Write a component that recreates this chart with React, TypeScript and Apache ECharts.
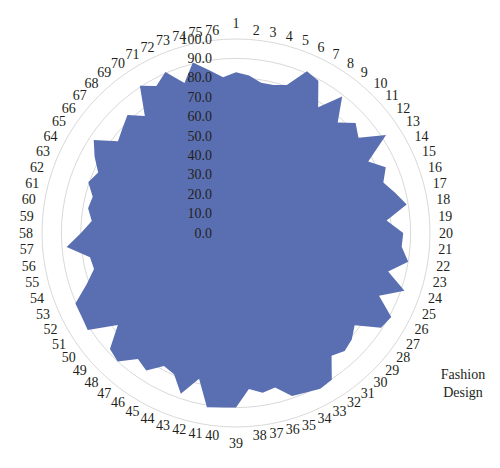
import React, { useEffect, useRef } from 'react';
import * as echarts from 'echarts';

const categories = [
  '1', '2', '3', '4', '5', '6', '7', '8', '9', '10',
  '11', '12', '13', '14', '15', '16', '17', '18', '19', '20',
  '21', '22', '23', '24', '25', '26', '27', '28', '29', '30',
  '31', '32', '33', '34', '35', '36', '37', '38', '39', '40',
  '41', '42', '43', '44', '45', '46', '47', '48', '49', '50',
  '51', '52', '53', '54', '55', '56', '57', '58', '59', '60',
  '61', '62', '63', '64', '65', '66', '67', '68', '69', '70',
  '71', '72', '73', '74', '75', '76',
];

const fashionDesign = [
  82.8, 81.4, 78.5, 78.7, 80.7, 91.0, 89.2, 77.4, 89.1, 77.4,
  83.8, 80.0, 92.4, 77.5, 84.3, 80.3, 84.6, 89.2, 77.9, 86.2,
  85.7, 90.0, 80.9, 91.8, 80.5, 91.0, 89.3, 77.5, 81.1, 82.7,
  80.2, 90.3, 91.3, 89.8, 88.9, 82.1, 83.5, 80.7, 89.9, 90.2,
  91.1, 77.5, 87.6, 79.5, 78.0, 84.6, 82.3, 90.1, 88.3, 77.2,
  91.3, 90.5, 90.4, 81.4, 75.5, 76.3, 87.6, 79.9, 74.6, 77.3,
  76.2, 80.5, 77.6, 82.9, 87.6, 77.1, 79.6, 82.6, 76.5, 90.6,
  86.2, 90.6, 81.8, 90.7, 85.2, 80.5,
];

const seriesName = 'Fashion Design';
const valueMin = 0;
const valueMax = 100;
const valueSplits = 10;

const FONT = '"Liberation Serif", "Times New Roman", serif';
const TEXT = '#231f20';

export default function App() {
  const ref = useRef<HTMLDivElement>(null);

  useEffect(() => {
    if (!ref.current) return;
    const chart = echarts.init(ref.current, undefined, { renderer: 'svg' });

    // ECharts lays radar indicators counter-clockwise; reorder so they read clockwise from the top.
    const order = [0];
    for (let i = categories.length - 1; i >= 1; i--) order.push(i);

    const indicatorMain = order.map((i) => ({ name: categories[i], min: valueMin, max: valueMax }));
    const indicatorLabels = order.map((i, k) => ({
      name: categories[i],
      min: valueMin,
      max: valueMax,
      axisLabel: { show: k === 0 },
    }));
    const ordered = order.map((i) => fashionDesign[i]);

    const common = {
      center: [236, 233],
      radius: 194,
      startAngle: 90,
      shape: 'circle',
      splitNumber: valueSplits,
    };

    const option: any = {
      animation: false,
      textStyle: { fontFamily: FONT },
      legend: {
        data: [{ name: seriesName, icon: 'none' }],
        left: 428,
        top: 360,
        itemWidth: 0,
        itemHeight: 0,
        formatter: () => '{a|Fashion}\n{a|Design}',
        textStyle: {
          fontFamily: FONT,
          fontSize: 14,
          color: TEXT,
          lineHeight: 18,
          rich: { a: { fontFamily: FONT, fontSize: 14, color: TEXT, lineHeight: 18, width: 50, align: 'center' } },
        },
      },
      radar: [
        {
          ...common,
          indicator: indicatorMain,
          axisName: { color: TEXT, fontSize: 14, fontFamily: FONT },
          nameGap: 9,
          splitLine: { lineStyle: { color: '#d9d9d9', width: 1 } },
          splitArea: { show: false },
          axisLine: { show: false },
          axisTick: { show: false },
          axisLabel: { show: false },
          z: 0,
        },
        {
          ...common,
          indicator: indicatorLabels,
          axisName: { show: false },
          splitLine: { show: false },
          splitArea: { show: false },
          axisLine: { show: false },
          axisTick: { show: false },
          axisLabel: {
            show: false,
            margin: 24,
            showMinLabel: true,
            showMaxLabel: true,
            fontSize: 14,
            fontFamily: FONT,
            color: TEXT,
            formatter: (v: number) => v.toFixed(1),
          },
          z: 10,
        },
      ],
      series: [
        {
          type: 'radar',
          name: seriesName,
          radarIndex: 0,
          symbol: 'none',
          lineStyle: { width: 0 },
          areaStyle: { color: '#5a6fb2', opacity: 1 },
          itemStyle: { color: '#5a6fb2' },
          data: [{ value: ordered, name: seriesName }],
        },
      ],
    };

    chart.setOption(option);
    return () => chart.dispose();
  }, []);

  return (
    <div
      ref={ref}
      style={{ position: 'absolute', left: 0, top: 0, width: 500, height: 468, background: '#fff' }}
    />
  );
}
